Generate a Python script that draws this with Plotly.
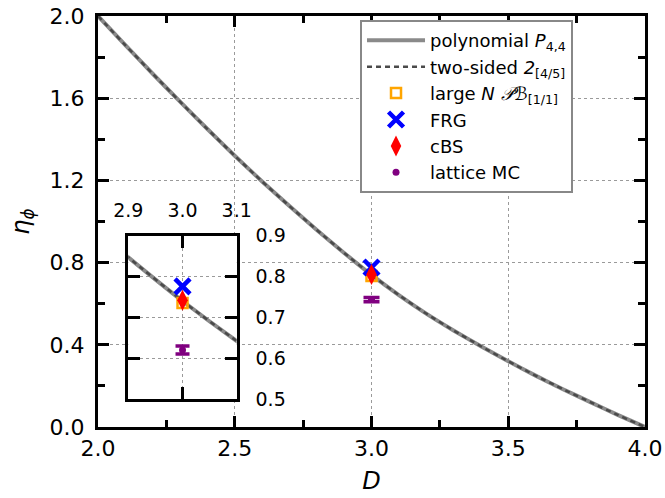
import plotly.graph_objects as go

# Anomalous dimension eta_phi versus spacetime dimension D
D_vals = [2.0, 2.1, 2.2, 2.3, 2.4, 2.5, 2.6, 2.7, 2.8, 2.9, 3.0,
          3.1, 3.2, 3.3, 3.4, 3.5, 3.6, 3.7, 3.8, 3.9, 4.0]
eta_poly = [2.0, 1.858, 1.719, 1.583, 1.45, 1.32, 1.195, 1.075, 0.959, 0.847, 0.74,
            0.642, 0.552, 0.47, 0.393, 0.32, 0.25, 0.184, 0.121, 0.059, 0.0]
eta_pade = [2.0, 1.858, 1.719, 1.583, 1.45, 1.32, 1.195, 1.075, 0.959, 0.847, 0.74,
            0.642, 0.552, 0.47, 0.393, 0.32, 0.25, 0.184, 0.121, 0.059, 0.0]

# Single estimates in D = 3
D3 = [3.0]
eta_largeN = [0.735]
eta_frg = [0.776]
eta_cbs = [0.742]
eta_mc = [0.62]
err_mc = [0.01]

FONT = "DejaVu Sans"
GRAY_SOLID = "#8a8a8a"
GRAY_DASH = "#4a4a4a"


def add_set(fig, xa, ya, legend, cap):
    fig.add_trace(go.Scatter(x=D_vals, y=eta_poly, mode="lines",
                             line=dict(color=GRAY_SOLID, width=4, shape="spline", smoothing=0.6),
                             name="polynomial <i>P</i><sub>4,4</sub>",
                             showlegend=legend, xaxis=xa, yaxis=ya))
    fig.add_trace(go.Scatter(x=D_vals, y=eta_pade, mode="lines",
                             line=dict(color=GRAY_DASH, width=2.5, dash="5px,4px",
                                       shape="spline", smoothing=0.6),
                             name="two-sided <i>2</i><sub>[4/5]</sub>",
                             showlegend=legend, xaxis=xa, yaxis=ya))
    fig.add_trace(go.Scatter(x=D3, y=eta_largeN, mode="markers",
                             marker=dict(symbol="square-open", size=10, color="orange",
                                         line=dict(width=2.5, color="orange")),
                             name="large <i>N</i> <i>𝒫ℬ</i><sub>[1/1]</sub>",
                             showlegend=legend, xaxis=xa, yaxis=ya))
    fig.add_trace(go.Scatter(x=D3, y=eta_frg, mode="markers",
                             marker=dict(symbol="x-thin", size=15, color="blue",
                                         line=dict(width=4.5, color="blue")),
                             name="FRG", showlegend=legend, xaxis=xa, yaxis=ya))
    fig.add_trace(go.Scatter(x=D3, y=eta_cbs, mode="markers",
                             marker=dict(symbol="diamond-tall", size=15, color="red",
                                         line=dict(width=0)),
                             name="cBS", showlegend=legend, xaxis=xa, yaxis=ya))
    fig.add_trace(go.Scatter(x=D3, y=eta_mc, mode="markers",
                             marker=dict(symbol="circle", size=7, color="purple"),
                             error_y=dict(type="data", array=err_mc, color="purple",
                                          thickness=3.5, width=cap),
                             name="lattice MC", showlegend=legend, xaxis=xa, yaxis=ya))


fig = go.Figure()
add_set(fig, "x", "y", True, 8)
add_set(fig, "x2", "y2", False, 7)

axis_common = dict(showline=True, linecolor="black", linewidth=3, mirror="ticks",
                   ticks="inside", tickcolor="black", tickformat=".1f",
                   zeroline=False, showgrid=True, gridcolor="#9a9a9a",
                   griddash="dot", gridwidth=1, automargin=False)

fig.update_layout(
    width=665, height=498,
    margin=dict(l=98, r=20, t=16, b=71),
    paper_bgcolor="white", plot_bgcolor="white",
    font=dict(family=FONT, size=22, color="black"),
    xaxis=dict(range=[2.0, 4.0], dtick=0.5, ticklen=11, tickwidth=3,
               minor=dict(dtick=0.25, ticks="inside", ticklen=7, tickwidth=2.5,
                          tickcolor="black", showgrid=False),
               title=dict(text="<i>D</i>", font=dict(size=24), standoff=12),
               **axis_common),
    yaxis=dict(range=[0.0, 2.0], dtick=0.4, ticklen=11, tickwidth=3,
               minor=dict(dtick=0.2, ticks="inside", ticklen=7, tickwidth=2.5,
                          tickcolor="black", showgrid=False),
               title=dict(text="<i>η</i><sub><i>ϕ</i></sub>", font=dict(size=24), standoff=14),
               ticklabelstandoff=6,
               **axis_common),
    xaxis2=dict(domain=[0.0554, 0.2536], anchor="y2", side="top",
                range=[2.9, 3.1], tickvals=[2.9, 3.0, 3.1], ticklen=12, tickwidth=3,
                ticklabelstandoff=8, tickfont=dict(size=19), **axis_common),
    yaxis2=dict(domain=[0.0681, 0.4655], anchor="x2", side="right",
                range=[0.5, 0.9], dtick=0.1, ticklen=12, tickwidth=3,
                ticklabelstandoff=12, tickfont=dict(size=19), **axis_common),
    legend=dict(x=0.479, y=0.99, xanchor="left", yanchor="top",
                bgcolor="white", bordercolor="#888888", borderwidth=2,
                font=dict(family=FONT, size=18), itemwidth=58,
                tracegroupgap=0),
    showlegend=True,
)

fig.write_html("out.html")
